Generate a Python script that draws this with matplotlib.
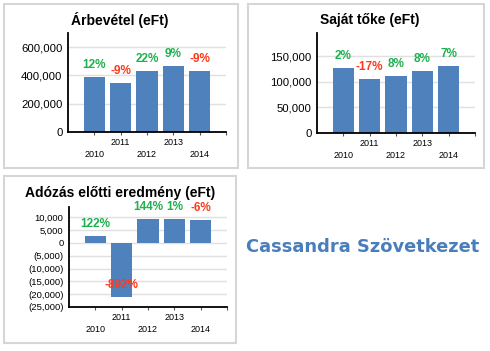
import matplotlib
matplotlib.use("Agg")
import matplotlib.pyplot as plt
from matplotlib.patches import Rectangle
from matplotlib.ticker import FuncFormatter

years = ["2010", "2011", "2012", "2013", "2014"]

revenue = [386000, 348000, 431000, 467000, 430000]
revenue_pct = ["12%", "-9%", "22%", "9%", "-9%"]

equity = [126000, 105000, 112000, 121000, 130000]
equity_pct = ["2%", "-17%", "8%", "8%", "7%"]

pretax = [2750, -21000, 9330, 9400, 8800]
pretax_pct = ["122%", "-892%", "144%", "1%", "-6%"]

BLUE = "#4f81bd"
GREEN = "#1fb14f"
RED = "#ff3a1a"
W, H = 490, 351

plt.rcParams['font.family'] = ['Liberation Sans', 'DejaVu Sans']

fig = plt.figure(figsize=(W / 100, H / 100), dpi=100)


def px_axes(left, right, top, bottom):
    return fig.add_axes([left / W, 1 - bottom / H, (right - left) / W, (bottom - top) / H])


def box(x0, y0, x1, y1):
    fig.add_artist(Rectangle((x0 / W, 1 - y1 / H), (x1 - x0) / W, (y1 - y0) / H,
                             transform=fig.transFigure, fill=False,
                             edgecolor="#d6d6d6", lw=1.5))


def comma(v, pos):
    if v < 0:
        return "({:,.0f})".format(-v)
    return "{:,.0f}".format(v)


def panel(ax, values, pcts, ylim, yticks, title, tfs, yfs, title_xy):
    x = list(range(len(values)))
    ax.bar(x, values, width=0.8, color=BLUE, zorder=3)
    ax.set_xlim(-1, 5)
    ax.set_ylim(*ylim)
    ax.set_yticks(yticks)
    ax.yaxis.set_major_formatter(FuncFormatter(comma))
    ax.grid(axis="y", color="#e0e0e0", lw=1, zorder=0)
    for s in ["top", "right"]:
        ax.spines[s].set_visible(False)
    for s in ["left", "bottom"]:
        ax.spines[s].set_linewidth(1.3)
        ax.spines[s].set_zorder(4)
    ax.tick_params(axis="y", length=0, labelsize=yfs, pad=4)
    ax.set_xticks(list(range(6)))
    labels = []
    for i, y in enumerate(years):
        labels.append(y if i % 2 else "\n" + y)
    labels.append("")
    ax.set_xticklabels(labels, fontsize=6.5, linespacing=1.45)
    ax.tick_params(axis="x", length=2.5, width=0.8, pad=2, color="#555555")
    for xi, v, p in zip(x, values, pcts):
        c = RED if p.startswith("-") else GREEN
        ax.annotate(p, (xi, v), xytext=(0, 12), textcoords="offset pixels",
                    ha="center", va="center", color=c, fontsize=8.5,
                    fontweight="bold", zorder=5, annotation_clip=False)
    fig.text(title_xy[0] / W, 1 - title_xy[1] / H, title, ha="center", va="center",
             fontsize=tfs, fontweight="bold")


box(4, 4, 238, 168)
box(248, 4, 484, 168)
box(4, 176, 236, 343)

ax1 = px_axes(68, 226, 33, 132)
panel(ax1, revenue, revenue_pct, (0, 700000), [0, 200000, 400000, 600000],
      "Árbevétel (eFt)", 10, 8.2, (120, 20))

ax2 = px_axes(317, 475, 33, 133)
panel(ax2, equity, equity_pct, (0, 195000), [0, 50000, 100000, 150000],
      "Saját tőke (eFt)", 10, 8.2, (370, 20))

ax3 = px_axes(69, 227, 207, 307)
panel(ax3, pretax, pretax_pct, (-25000, 14000), list(range(-25000, 10001, 5000)),
      "Adózás előtti eredmény (eFt)", 10, 6.8, (120, 193))

fig.text(363 / W, 1 - 247 / H, "Cassandra Szövetkezet", ha="center", va="center",
         fontsize=12.9, fontweight="bold", color="#4a7ebb", family="DejaVu Sans")

fig.savefig("out.png", dpi=100)
